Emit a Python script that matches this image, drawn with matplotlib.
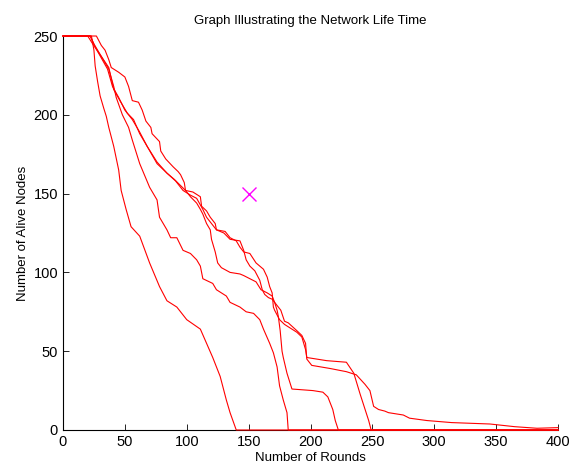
#%% Librerías
import numpy as np
import matplotlib
matplotlib.use('Agg')
import matplotlib.pyplot as plt

plt.rcParams['font.family'] = ['Liberation Sans', 'DejaVu Sans']

#%% Datos (nodos vivos vs. rondas, 5 corridas)
x_a = [0, 23, 25, 26, 28, 30, 33, 35, 37, 41, 45, 47, 51, 55, 62, 70, 78, 84, 92, 100,
       111, 116, 121, 127, 132, 135, 140, 400]
y_a = [250, 250, 241, 231, 221, 212, 204, 199, 192, 180, 165, 152, 140, 129, 123, 106, 91, 82, 78, 70,
       64, 55, 46, 34, 19, 11, 0, 0]

x_b = [0, 22, 25, 31, 37, 41, 43, 48, 53, 56, 62, 70, 76, 78, 84, 87, 92, 97, 103, 108,
       111, 113, 121, 124, 132, 135, 143, 148, 154, 159, 162, 167, 170, 173, 175, 178, 181, 182, 400]
y_b = [250, 250, 245, 237, 229, 218, 211, 200, 192, 184, 169, 154, 146, 135, 127, 122, 122, 114, 112, 108,
       104, 96, 93, 89, 85, 81, 78, 75, 74, 70, 64, 55, 49, 40, 28, 19, 11, 0, 0]

x_c = [0, 22, 26, 31, 36, 40, 45, 50, 56, 62, 68, 76, 84, 91, 97, 103, 108, 113, 116, 120,
       124, 130, 135, 143, 146, 148, 151, 155, 159, 161, 163, 166, 169, 171, 173, 174, 175.5, 177,
       178, 181, 185, 202, 210, 214, 218, 220, 222.5, 400]
y_c = [250, 250, 243, 236, 229, 218, 211, 203, 197, 189, 180, 170, 163, 158, 152, 149, 147, 140, 135, 131,
       127, 125, 121, 120, 114, 108, 104, 101, 95, 89, 86, 84, 83, 81, 76, 72, 63, 50,
       46, 36, 26, 25, 24, 21, 13, 6, 0, 0]

x_d = [0, 27, 31, 34, 37, 39, 45, 50, 53, 56, 61, 64, 67, 71, 72, 78, 79, 83, 89, 93,
       95, 98, 99, 105, 111, 112, 116, 119, 123, 124, 131, 135, 140, 143, 146, 151, 156, 162, 165,
       167, 169, 170, 171, 175, 179, 183, 189, 193, 196, 197, 213, 229, 235, 240, 247, 249, 400]
y_d = [250, 250, 244, 241, 235, 230, 227, 224, 218, 209, 208, 203, 196, 192, 188, 183, 177, 172, 167, 164,
       162, 157, 152, 151, 148, 142, 139, 135, 131, 127, 126, 122, 120, 116, 113, 112, 106, 102, 97,
       91, 87, 78, 76, 70, 67, 65, 62, 59, 51, 46, 44, 43, 36, 23, 6, 0, 0]

x_e = [0, 20, 24, 31, 37, 41, 46, 52, 57, 62, 68, 76, 84, 90, 99, 103, 108, 111, 113, 116,
       119, 120, 123, 125, 128, 135, 143, 146, 151, 156, 160, 165, 169, 171, 174, 176, 179, 182,
       189, 193, 196, 197, 201, 216, 229, 237, 244, 248, 251, 255, 260, 263, 275, 280, 294, 314,
       345, 365, 383, 400]
y_e = [250, 250, 245, 237, 230, 216, 209, 201, 197, 188, 180, 169, 163, 159, 152, 148, 144, 140, 137, 131,
       127, 121, 113, 106, 103, 100, 99, 98, 96, 94, 89, 87, 85, 81, 78, 76, 69, 68,
       63, 60, 55, 45, 41, 39, 37, 35, 29, 25, 15, 13, 12, 11, 9.5, 7.5, 6, 4.7,
       3.8, 2.1, 1.1, 1.5]

# Marcador
x_mark = [150]
y_mark = [150]

xticks = [0, 50, 100, 150, 200, 250, 300, 350, 400]
yticks = [0, 50, 100, 150, 200, 250]

#%% Gráfico
fig = plt.figure(figsize=(5.7, 4.72), dpi=100)
ax = fig.add_axes([0.1105, 0.089, 0.8685, 0.8347])

for xs, ys in [(x_a, y_a), (x_b, y_b), (x_c, y_c), (x_d, y_d), (x_e, y_e)]:
    ax.plot(xs, ys, color='red', linewidth=0.8, clip_on=False, zorder=3)

ax.plot(x_mark, y_mark, 'x', color='magenta', markersize=10, markeredgewidth=1.0)

ax.set_xlim(0, 400)
ax.set_ylim(0, 250)
ax.set_xticks(xticks)
ax.set_yticks(yticks)
ax.tick_params(direction='in', length=4, labelsize=10.5, width=0.6)
for s in ['top', 'right']:
    ax.spines[s].set_visible(False)
ax.spines['left'].set_linewidth(0.8)
ax.spines['bottom'].set_linewidth(0.8)

ax.set_title('Graph Illustrating the Network Life Time', fontsize=9.5, pad=9)
ax.set_xlabel('Number of Rounds', fontsize=9.5, labelpad=2)
ax.set_ylabel('Number of Alive Nodes', fontsize=9.5, labelpad=3)

fig.savefig('out.png', dpi=100)
